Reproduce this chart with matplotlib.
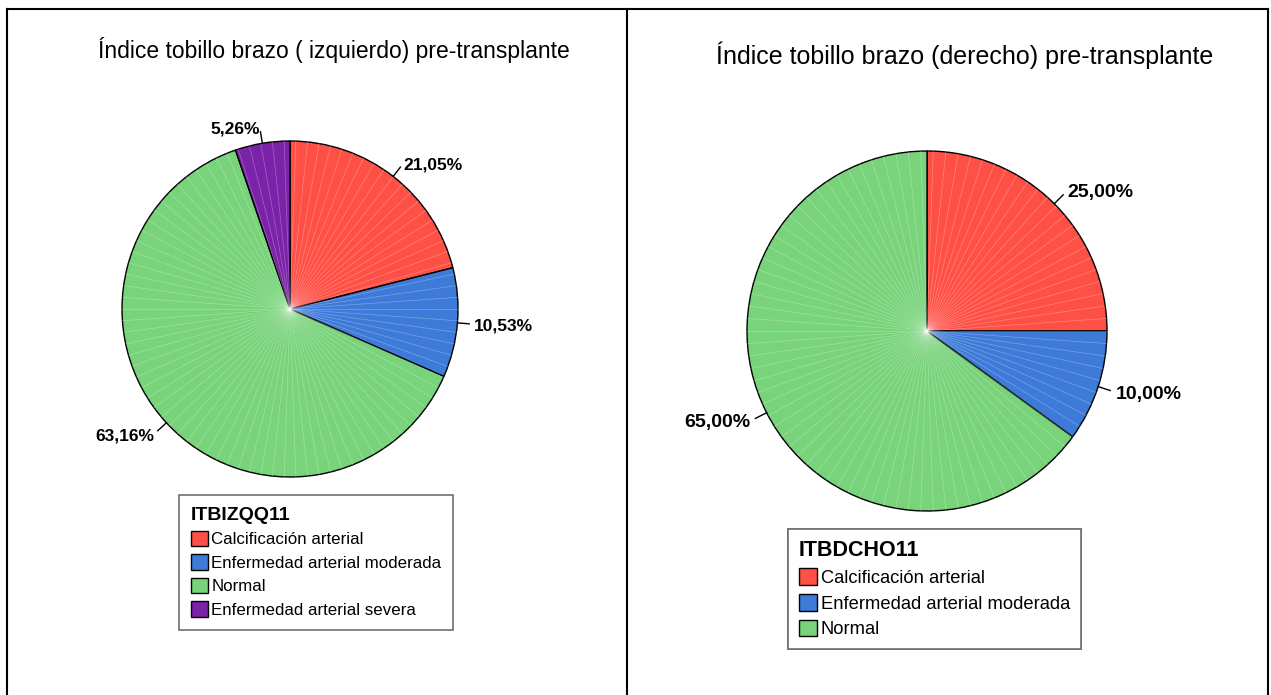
import numpy as np
import matplotlib
matplotlib.use('Agg')
import matplotlib.pyplot as plt
from matplotlib.patches import Patch

plt.rcParams['font.family'] = ['Liberation Sans', 'DejaVu Sans']

# data
left_title = 'Índice tobillo brazo ( izquierdo) pre-transplante'
left_var = 'ITBIZQQ11'
left_cats = ['Calcificación arterial', 'Enfermedad arterial moderada', 'Normal', 'Enfermedad arterial severa']
left_pct = [21.05, 10.53, 63.16, 5.26]
left_labels = ['21,05%', '10,53%', '63,16%', '5,26%']

right_title = 'Índice tobillo brazo (derecho) pre-transplante'
right_var = 'ITBDCHO11'
right_cats = ['Calcificación arterial', 'Enfermedad arterial moderada', 'Normal']
right_pct = [25.00, 10.00, 65.00]
right_labels = ['25,00%', '10,00%', '65,00%']

colors = {
    'Calcificación arterial': '#ff5046',
    'Enfermedad arterial moderada': '#3e7bd9',
    'Normal': '#78d37b',
    'Enfermedad arterial severa': '#7a22a8',
}

W, H = 1271, 695
fig = plt.figure(figsize=(W / 100, H / 100), dpi=100)
ax = fig.add_axes([0, 0, 1, 1])


def draw_pie(cx, cy, r, pct, labels, cats, lsize):
    cy = H - cy
    wedges, _ = ax.pie(pct, colors=[colors[c] for c in cats], startangle=90,
                       counterclock=False, center=(cx, cy), radius=r,
                       wedgeprops=dict(edgecolor='black', linewidth=1.0))
    # faint radial streaks like the SPSS render
    for w in wedges:
        for a in np.arange(np.ceil(w.theta1 / 4) * 4, w.theta2, 4):
            t = np.deg2rad(a)
            ax.plot([cx, cx + r * np.cos(t)], [cy, cy + r * np.sin(t)],
                    color='white', lw=0.5, alpha=0.3, zorder=2)
    for w, lab in zip(wedges, labels):
        mid = np.deg2rad((w.theta1 + w.theta2) / 2)
        c, s = np.cos(mid), np.sin(mid)
        ax.plot([cx + r * c, cx + 1.07 * r * c], [cy + r * s, cy + 1.07 * r * s],
                color='black', lw=1, zorder=3)
        ax.text(cx + 1.1 * r * c, cy + 1.1 * r * s - 2, lab,
                ha='left' if c > 0 else 'right', va='center',
                fontsize=lsize, fontweight='bold')


def draw_legend(x, y, var, cats, size, tsize, spacing, pad):
    handles = [Patch(facecolor=colors[c], edgecolor='black', label=c) for c in cats]
    leg = ax.legend(handles=handles, title=var, loc='upper left',
                    bbox_to_anchor=(x, H - y), bbox_transform=ax.transData,
                    fontsize=size, title_fontproperties={'weight': 'bold', 'size': tsize},
                    alignment='left', fancybox=False, framealpha=1,
                    edgecolor='#707070', handlelength=1.0, handleheight=1.0,
                    handletextpad=0.2, labelspacing=spacing, borderpad=pad,
                    borderaxespad=0)
    leg.get_frame().set_linewidth(1.2)
    ax.add_artist(leg)


draw_pie(290, 309, 168, left_pct, left_labels, left_cats, 12.5)
draw_pie(927, 331, 180, right_pct, right_labels, right_cats, 14)

ax.text(334, H - 50, left_title, ha='center', va='center', fontsize=16.5)
ax.text(965, H - 55, right_title, ha='center', va='center', fontsize=18)

draw_legend(179, 495, left_var, left_cats, 12.2, 14, 0.42, 0.7)
draw_legend(788, 529, right_var, right_cats, 13.2, 15.5, 0.4, 0.6)

# panel frames
for xs, ys in [([7, 7], [0, H - 9]), ([627, 627], [0, H - 9]),
               ([1268, 1268], [0, H - 9]), ([7, 1268], [H - 9, H - 9])]:
    ax.plot(xs, ys, color='black', lw=1.5, clip_on=False)

ax.set_xlim(0, W)
ax.set_ylim(0, H)
ax.set_aspect('auto')
ax.axis('off')

plt.savefig('out.png', dpi=100)
